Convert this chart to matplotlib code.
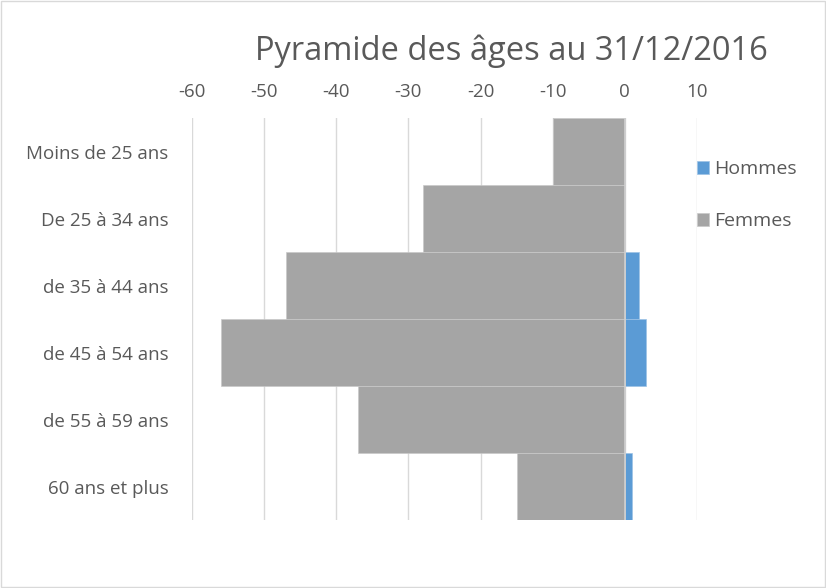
import numpy as np
import matplotlib.pyplot as plt
from matplotlib.patches import Rectangle

# Donnees
categories = ['Moins de 25 ans', 'De 25 à 34 ans', 'de 35 à 44 ans',
              'de 45 à 54 ans', 'de 55 à 59 ans', '60 ans et plus']
hommes = [0, 0, 2, 3, 0, 1]
femmes = [-10, -28, -47, -56, -37, -15]
ticks = [-60, -50, -40, -30, -20, -10, 0, 10]

plt.rcParams['font.family'] = ['Open Sans', 'DejaVu Sans']
gris_txt = '#595959'

fig = plt.figure(figsize=(8.26, 5.88), dpi=100)
ax = fig.add_axes([0.2324, 0.1156, 0.6114, 0.6837])

y = np.arange(len(categories))
ax.barh(y, hommes, height=1.0, color='#5b9bd5', edgecolor='#9dc3e6', linewidth=0.5, label='Hommes', zorder=3)
ax.barh(y, femmes, height=1.0, color='#a5a5a5', edgecolor='#c9c9c9', linewidth=0.5, label='Femmes', zorder=3)

ax.set_xlim(-60, 10)
ax.set_ylim(len(categories) - 0.5, -0.5)
ax.set_xticks(ticks)
ax.set_xticklabels([str(t) for t in ticks])
ax.set_yticks(y)
ax.set_yticklabels(categories)
ax.xaxis.tick_top()
ax.tick_params(axis='both', length=0, labelsize=13.5, colors=gris_txt)
ax.tick_params(axis='x', pad=12)
ax.tick_params(axis='y', pad=17)
for t in ax.get_xticklabels() + ax.get_yticklabels():
    t.set_color(gris_txt)

ax.grid(axis='x', color='#d9d9d9', linewidth=1, zorder=0)
ax.axvline(0, color='#d0d0d0', linewidth=1.2, zorder=4)
for s in ax.spines.values():
    s.set_visible(False)

fig.text(0.619, 0.912, 'Pyramide des âges au 31/12/2016', ha='center', va='center',
         fontsize=23.5, color=gris_txt)

leg = ax.legend(loc='upper left', bbox_to_anchor=(0.984, 0.915), frameon=False,
                fontsize=14, handlelength=0.65, handleheight=0.65, handletextpad=0.25,
                labelspacing=1.75, borderaxespad=0)
for t in leg.get_texts():
    t.set_color(gris_txt)

fig.patches.append(Rectangle((0.001, 0.001), 0.998, 0.997, transform=fig.transFigure,
                             fill=False, edgecolor='#d9d9d9', linewidth=1))

plt.savefig('out.png', dpi=100)
